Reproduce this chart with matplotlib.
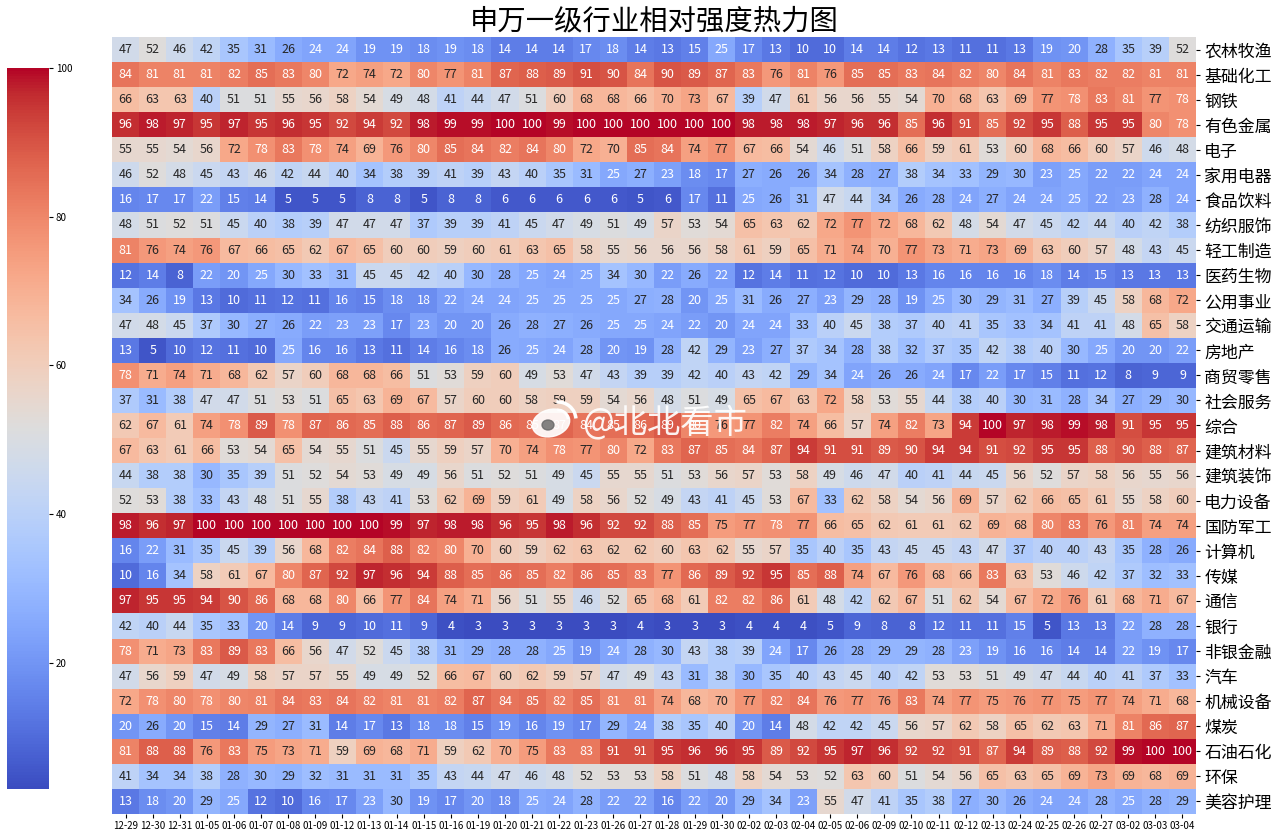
import matplotlib
matplotlib.use("Agg")
import matplotlib.pyplot as plt
from matplotlib.patches import Ellipse, Arc
import numpy as np
import seaborn as sns

plt.rcParams['font.family'] = ['Noto Sans CJK SC', 'DejaVu Sans']
plt.rcParams['axes.unicode_minus'] = False

dates = ['12-29', '12-30', '12-31', '01-05', '01-06', '01-07', '01-08', '01-09', '01-12', '01-13',
         '01-14', '01-15', '01-16', '01-19', '01-20', '01-21', '01-22', '01-23', '01-26', '01-27',
         '01-28', '01-29', '01-30', '02-02', '02-03', '02-04', '02-05', '02-06', '02-09', '02-10',
         '02-11', '02-12', '02-13', '02-24', '02-25', '02-26', '02-27', '03-02', '03-03', '03-04']

industries = ['农林牧渔', '基础化工', '钢铁', '有色金属', '电子', '家用电器', '食品饮料', '纺织服饰',
              '轻工制造', '医药生物', '公用事业', '交通运输', '房地产', '商贸零售', '社会服务', '综合',
              '建筑材料', '建筑装饰', '电力设备', '国防军工', '计算机', '传媒', '通信', '银行',
              '非银金融', '汽车', '机械设备', '煤炭', '石油石化', '环保', '美容护理']

strength = [
    [47, 52, 46, 42, 35, 31, 26, 24, 24, 19, 19, 18, 19, 18, 14, 14, 14, 17, 18, 14, 13, 15, 25, 17, 13, 10, 10, 14, 14, 12, 13, 11, 11, 13, 19, 20, 28, 35, 39, 52],
    [84, 81, 81, 81, 82, 85, 83, 80, 72, 74, 72, 80, 77, 81, 87, 88, 89, 91, 90, 84, 90, 89, 87, 83, 76, 81, 76, 85, 85, 83, 84, 82, 80, 84, 81, 83, 82, 82, 81, 81],
    [66, 63, 63, 40, 51, 51, 55, 56, 58, 54, 49, 48, 41, 44, 47, 51, 60, 68, 68, 66, 70, 73, 67, 39, 47, 61, 56, 56, 55, 54, 70, 68, 63, 69, 77, 78, 83, 81, 77, 78],
    [96, 98, 97, 95, 97, 95, 96, 95, 92, 94, 92, 98, 99, 99, 100, 100, 99, 100, 100, 100, 100, 100, 100, 98, 98, 98, 97, 96, 96, 85, 96, 91, 85, 92, 95, 88, 95, 95, 80, 78],
    [55, 55, 54, 56, 72, 78, 83, 78, 74, 69, 76, 80, 85, 84, 82, 84, 80, 72, 70, 85, 84, 74, 77, 67, 66, 54, 46, 51, 58, 66, 59, 61, 53, 60, 68, 66, 60, 57, 46, 48],
    [46, 52, 48, 45, 43, 46, 42, 44, 40, 34, 38, 39, 41, 39, 43, 40, 35, 31, 25, 27, 23, 18, 17, 27, 26, 26, 34, 28, 27, 38, 34, 33, 29, 30, 23, 25, 22, 22, 24, 24],
    [16, 17, 17, 22, 15, 14, 5, 5, 5, 8, 8, 5, 8, 8, 6, 6, 6, 6, 6, 5, 6, 17, 11, 25, 26, 31, 47, 44, 34, 26, 28, 24, 27, 24, 24, 25, 22, 23, 28, 24],
    [48, 51, 52, 51, 45, 40, 38, 39, 47, 47, 47, 37, 39, 39, 41, 45, 47, 49, 51, 49, 57, 53, 54, 65, 63, 62, 72, 77, 72, 68, 62, 48, 54, 47, 45, 42, 44, 40, 42, 38],
    [81, 76, 74, 76, 67, 66, 65, 62, 67, 65, 60, 60, 59, 60, 61, 63, 65, 58, 55, 56, 56, 56, 58, 61, 59, 65, 71, 74, 70, 77, 73, 71, 73, 69, 63, 60, 57, 48, 43, 45],
    [12, 14, 8, 22, 20, 25, 30, 33, 31, 45, 45, 42, 40, 30, 28, 25, 24, 25, 34, 30, 22, 26, 22, 12, 14, 11, 12, 10, 10, 13, 16, 16, 16, 16, 18, 14, 15, 13, 13, 13],
    [34, 26, 19, 13, 10, 11, 12, 11, 16, 15, 18, 18, 22, 24, 24, 25, 25, 25, 25, 27, 28, 20, 25, 31, 26, 27, 23, 29, 28, 19, 25, 30, 29, 31, 27, 39, 45, 58, 68, 72],
    [47, 48, 45, 37, 30, 27, 26, 22, 23, 23, 17, 23, 20, 20, 26, 28, 27, 26, 25, 25, 24, 22, 20, 24, 24, 33, 40, 45, 38, 37, 40, 41, 35, 33, 34, 41, 41, 48, 65, 58],
    [13, 5, 10, 12, 11, 10, 25, 16, 16, 13, 11, 14, 16, 18, 26, 25, 24, 28, 20, 19, 28, 42, 29, 23, 27, 37, 34, 28, 38, 32, 37, 35, 42, 38, 40, 30, 25, 20, 20, 22],
    [78, 71, 74, 71, 68, 62, 57, 60, 68, 68, 66, 51, 53, 59, 60, 49, 53, 47, 43, 39, 39, 42, 40, 43, 42, 29, 34, 24, 26, 26, 24, 17, 22, 17, 15, 11, 12, 8, 9, 9],
    [37, 31, 38, 47, 47, 51, 53, 51, 65, 63, 69, 67, 57, 60, 60, 58, 59, 59, 54, 56, 48, 51, 49, 65, 67, 63, 72, 58, 53, 55, 44, 38, 40, 30, 31, 28, 34, 27, 29, 30],
    [62, 67, 61, 74, 78, 89, 78, 87, 86, 85, 88, 86, 87, 89, 86, 85, 87, 84, 85, 86, 89, 80, 76, 77, 82, 74, 66, 57, 74, 82, 73, 94, 100, 97, 98, 99, 98, 91, 95, 95],
    [67, 63, 61, 66, 53, 54, 65, 54, 55, 51, 45, 55, 59, 57, 70, 74, 78, 77, 80, 72, 83, 87, 85, 84, 87, 94, 91, 91, 89, 90, 94, 94, 91, 92, 95, 95, 88, 90, 88, 87],
    [44, 38, 38, 30, 35, 39, 51, 52, 54, 53, 49, 49, 56, 51, 52, 51, 49, 45, 55, 55, 51, 53, 56, 57, 53, 58, 49, 46, 47, 40, 41, 44, 45, 56, 52, 57, 58, 56, 55, 56],
    [52, 53, 38, 33, 43, 48, 51, 55, 38, 43, 41, 53, 62, 69, 59, 61, 49, 58, 56, 52, 49, 43, 41, 45, 53, 67, 33, 62, 58, 54, 56, 69, 57, 62, 66, 65, 61, 55, 58, 60],
    [98, 96, 97, 100, 100, 100, 100, 100, 100, 100, 99, 97, 98, 98, 96, 95, 98, 96, 92, 92, 88, 85, 75, 77, 78, 77, 66, 65, 62, 61, 61, 62, 69, 68, 80, 83, 76, 81, 74, 74],
    [16, 22, 31, 35, 45, 39, 56, 68, 82, 84, 88, 82, 80, 70, 60, 59, 62, 63, 62, 62, 60, 63, 62, 55, 57, 35, 40, 35, 43, 45, 45, 43, 47, 37, 40, 40, 43, 35, 28, 26],
    [10, 16, 34, 58, 61, 67, 80, 87, 92, 97, 96, 94, 88, 85, 86, 85, 82, 86, 85, 83, 77, 86, 89, 92, 95, 85, 88, 74, 67, 76, 68, 66, 83, 63, 53, 46, 42, 37, 32, 33],
    [97, 95, 95, 94, 90, 86, 68, 68, 80, 66, 77, 84, 74, 71, 56, 51, 55, 46, 52, 65, 68, 61, 82, 82, 86, 61, 48, 42, 62, 67, 51, 62, 54, 67, 72, 76, 61, 68, 71, 67],
    [42, 40, 44, 35, 33, 20, 14, 9, 9, 10, 11, 9, 4, 3, 3, 3, 3, 3, 3, 4, 3, 3, 3, 4, 4, 4, 5, 9, 8, 8, 12, 11, 11, 15, 5, 13, 13, 22, 28, 28],
    [78, 71, 73, 83, 89, 83, 66, 56, 47, 52, 45, 38, 31, 29, 28, 28, 25, 19, 24, 28, 30, 43, 38, 39, 24, 17, 26, 28, 29, 29, 28, 23, 19, 16, 16, 14, 14, 22, 19, 17],
    [47, 56, 59, 47, 49, 58, 57, 57, 55, 49, 49, 52, 66, 67, 60, 62, 59, 57, 47, 49, 43, 31, 38, 30, 35, 40, 43, 45, 40, 42, 53, 53, 51, 49, 47, 44, 40, 41, 37, 33],
    [72, 78, 80, 78, 80, 81, 84, 83, 84, 82, 81, 81, 82, 87, 84, 85, 82, 85, 81, 81, 74, 68, 70, 77, 82, 84, 76, 77, 76, 83, 74, 77, 75, 76, 77, 75, 77, 74, 71, 68],
    [20, 26, 20, 15, 14, 29, 27, 31, 14, 17, 13, 18, 18, 15, 19, 16, 19, 17, 29, 24, 38, 35, 40, 20, 14, 48, 42, 42, 45, 56, 57, 62, 58, 65, 62, 63, 71, 81, 86, 87],
    [81, 88, 88, 76, 83, 75, 73, 71, 59, 69, 68, 71, 59, 62, 70, 75, 83, 83, 91, 91, 95, 96, 96, 95, 89, 92, 95, 97, 96, 92, 92, 91, 87, 94, 89, 88, 92, 99, 100, 100],
    [41, 34, 34, 38, 28, 30, 29, 32, 31, 31, 31, 35, 43, 44, 47, 46, 48, 52, 53, 53, 58, 51, 48, 58, 54, 53, 52, 63, 60, 51, 54, 56, 65, 63, 65, 69, 73, 69, 68, 69],
    [13, 18, 20, 29, 25, 12, 10, 16, 17, 23, 30, 19, 17, 20, 18, 25, 24, 28, 22, 22, 16, 22, 20, 29, 34, 23, 55, 47, 41, 35, 38, 27, 30, 26, 24, 24, 28, 25, 28, 29],
]

W, H = 1280, 838


def px_box(x0, y0, x1, y1):
    # pixel box (top-left origin) to figure fraction
    return [x0 / W, 1 - y1 / H, (x1 - x0) / W, (y1 - y0) / H]


fig = plt.figure(figsize=(12.8, 8.38), dpi=100)
ax = fig.add_axes(px_box(112, 37, 1196, 814))
cax = fig.add_axes(px_box(7, 68, 49, 789))

data = np.array(strength)
sns.heatmap(data, ax=ax, cbar_ax=cax, cmap='coolwarm', annot=True, fmt='d',
            annot_kws={'fontsize': 9}, xticklabels=dates, yticklabels=industries)

ax.yaxis.tick_right()
ax.tick_params(axis='y', labelsize=12.2, labelrotation=0, length=3, pad=3)
ax.tick_params(axis='x', labelsize=7, labelrotation=0, length=3, pad=2)
cax.tick_params(labelsize=7, length=3, pad=2)
cax.set_yticks([20, 40, 60, 80, 100])

fig.text(654 / W, 1 - 21 / H, '申万一级行业相对强度热力图', fontsize=20.4, ha='center', va='center')

# weibo watermark, overlay in pixel coords
over = fig.add_axes([0, 0, 1, 1], facecolor='none')
over.set_xlim(0, W)
over.set_ylim(H, 0)
over.axis('off')
over.add_patch(Ellipse((551, 423), 38, 27, angle=-15, color='white', alpha=0.92))
over.add_patch(Ellipse((548, 425), 12, 10, color='#666666', alpha=0.8))
over.add_patch(Arc((558, 420), 36, 36, theta1=-95, theta2=-5, color='white', lw=2.5))
over.add_patch(Arc((558, 420), 20, 20, theta1=-95, theta2=-5, color='white', lw=2))
over.text(582, 423, '@北北看市', fontsize=24, color='white', alpha=0.92, ha='left', va='center')

fig.savefig('out.png', dpi=100)
